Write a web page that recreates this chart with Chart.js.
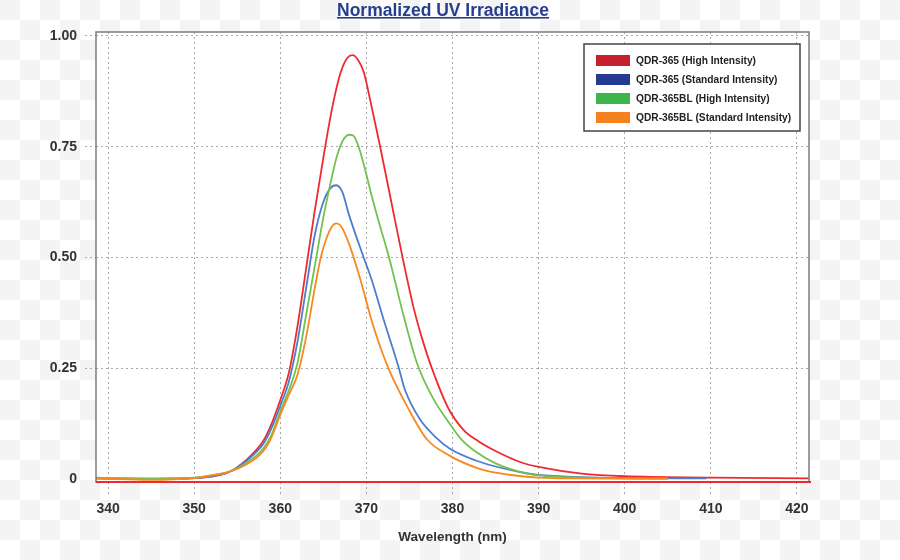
<!DOCTYPE html>
<html>
<head>
<meta charset="utf-8">
<script src="https://cdn.jsdelivr.net/npm/chart.js@4.4.0/dist/chart.umd.min.js"></script>
<style>
html, body { margin: 0; padding: 0; }
body {
    width: 900px; height: 560px;
    background-color: #fff;
    background-image: repeating-conic-gradient(#fff 0 25%, #f4f4f4 0 50%);
    background-size: 40px 40px;
}
</style>
</head>
<body>
<canvas id="myChart" width="900" height="560"></canvas>
<script>
// data
var seriesNames = ["QDR-365 (High Intensity)", "QDR-365 (Standard Intensity)", "QDR-365BL (High Intensity)", "QDR-365BL (Standard Intensity)"];

var redWl  = [338.6, 345, 350, 352, 354, 356, 358, 359, 360, 361, 362, 363, 364, 365, 366, 367, 367.8, 368.4, 369, 369.7, 370.5, 371.6, 373, 374.2, 375.5, 376.5, 377.6, 379.5, 381.3, 383, 385, 388, 390, 395, 400, 410, 421.4];
var redVal = [0.001, 0.000, 0.002, 0.005, 0.015, 0.042, 0.085, 0.125, 0.178, 0.24, 0.345, 0.475, 0.605, 0.725, 0.835, 0.917, 0.951, 0.957, 0.947, 0.918, 0.85, 0.75, 0.615, 0.50, 0.385, 0.315, 0.25, 0.16, 0.11, 0.085, 0.063, 0.037, 0.027, 0.012, 0.006, 0.003, 0.001];

var blueWl  = [338.6, 345, 350, 352, 354, 356, 358, 359, 360, 361, 362, 363, 364, 365, 365.8, 366.5, 367.2, 368, 369.5, 370.6, 372, 373.7, 374.5, 376.2, 378, 379.7, 382.8, 385, 388, 390, 395, 400, 409.5];
var blueVal = [0.001, 0.000, 0.002, 0.006, 0.015, 0.040, 0.078, 0.115, 0.165, 0.22, 0.31, 0.43, 0.55, 0.625, 0.656, 0.663, 0.648, 0.595, 0.51, 0.45, 0.36, 0.255, 0.20, 0.135, 0.095, 0.068, 0.041, 0.028, 0.015, 0.009, 0.004, 0.002, 0.001];

var greenWl  = [338.6, 345, 350, 352, 354, 356, 358, 359, 360, 361, 362, 363, 364, 365, 365.8, 366.6, 367.3, 368, 368.5, 369.1, 369.7, 370.6, 371.6, 372.7, 374.3, 375.9, 377.8, 379.7, 381, 382.8, 385, 388, 390, 395, 405];
var greenVal = [0.003, 0.001, 0.003, 0.008, 0.016, 0.035, 0.068, 0.10, 0.152, 0.20, 0.262, 0.37, 0.48, 0.59, 0.665, 0.73, 0.765, 0.777, 0.775, 0.75, 0.71, 0.64, 0.57, 0.495, 0.37, 0.26, 0.18, 0.124, 0.09, 0.06, 0.035, 0.015, 0.008, 0.003, 0.001];

var orangeWl  = [338.6, 345, 350, 352, 354, 356, 358, 359, 360, 361, 362, 363, 364, 364.7, 365.4, 366, 366.5, 367, 368, 369.3, 370.8, 372.55, 374.7, 377, 379.7, 382.8, 385, 388, 390, 395, 405];
var orangeVal = [0.001, -0.002, 0.002, 0.008, 0.016, 0.032, 0.062, 0.095, 0.145, 0.19, 0.235, 0.32, 0.43, 0.50, 0.545, 0.57, 0.577, 0.572, 0.53, 0.45, 0.345, 0.25, 0.165, 0.09, 0.052, 0.025, 0.014, 0.006, 0.003, 0.001, 0.000];

var xTickValues = [340, 350, 360, 370, 380, 390, 400, 410, 420];
var yTickValues = [0, 0.25, 0.5, 0.75, 1];
var yTickLabels = ["0", "0.25", "0.50", "0.75", "1.00"];

var FONT = "'Liberation Sans', Arial, sans-serif";
var lineColors = ["#ee2a30", "#4d7ecb", "#72c24f", "#f7891f"];
var legendColors = ["#c6202f", "#253b92", "#3db54a", "#f6821f"];

function toPoints(xs, ys){
    var pts = [];
    for (var i = 0; i < xs.length; i++) {
        pts.push({x: xs[i], y: ys[i]});
    }
    return pts;
}

var allWl = [redWl, blueWl, greenWl, orangeWl];
var allVal = [redVal, blueVal, greenVal, orangeVal];
var datasets = [];
for (var i = 0; i < 4; i++) {
    datasets.push({
        label: seriesNames[i],
        data: toPoints(allWl[i], allVal[i]),
        borderColor: lineColors[i],
        borderWidth: 1.8,
        pointRadius: 0,
        cubicInterpolationMode: 'monotone',
        fill: false
    });
}
// draw red on top like the picture
datasets.reverse();

var plotBg = {
    id: 'plotBg',
    beforeDraw: function(chart){
        var a = chart.chartArea, ctx = chart.ctx;
        ctx.save();
        ctx.fillStyle = '#fff';
        ctx.fillRect(a.left, a.top, a.right - a.left, a.bottom - a.top);
        ctx.restore();
    },
    afterDatasetsDraw: function(chart){
        var a = chart.chartArea, ctx = chart.ctx;
        ctx.save();
        ctx.strokeStyle = '#7c7c7c';
        ctx.lineWidth = 1.5;
        ctx.strokeRect(a.left, a.top, a.right - a.left, a.bottom - a.top);
        ctx.strokeStyle = '#ee2a30';
        ctx.lineWidth = 2;
        ctx.beginPath();
        ctx.moveTo(a.left, a.bottom);
        ctx.lineTo(a.right + 2, a.bottom);
        ctx.stroke();
        ctx.restore();
    }
};

var titleAndLegend = {
    id: 'titleAndLegend',
    afterDraw: function(chart){
        var ctx = chart.ctx;
        ctx.save();
        // title with underline
        ctx.font = 'bold 17.5px ' + FONT;
        ctx.fillStyle = '#253f8e';
        ctx.textAlign = 'center';
        ctx.textBaseline = 'alphabetic';
        var t = 'Normalized UV Irradiance';
        ctx.fillText(t, 443, 15.5);
        var w = ctx.measureText(t).width;
        ctx.fillRect(443 - w / 2, 17, w, 1.6);

        // legend box
        ctx.fillStyle = '#fff';
        ctx.fillRect(584, 44, 216, 87);
        ctx.strokeStyle = '#444';
        ctx.lineWidth = 1.5;
        ctx.strokeRect(584, 44, 216, 87);
        ctx.font = 'bold 10.2px ' + FONT;
        ctx.textAlign = 'left';
        ctx.textBaseline = 'middle';
        for (var i = 0; i < seriesNames.length; i++) {
            var cy = 60.5 + i * 19;
            ctx.fillStyle = legendColors[i];
            ctx.fillRect(596, cy - 5.5, 34, 11);
            ctx.fillStyle = '#222';
            ctx.fillText(seriesNames[i], 636, cy + 0.5);
        }
        ctx.restore();
    }
};

var ctx = document.getElementById('myChart').getContext('2d');
var chart = new Chart(ctx, {
    type: 'line',
    data: { datasets: datasets },
    plugins: [plotBg, titleAndLegend],
    options: {
        responsive: false,
        animation: false,
        layout: { padding: { left: 0, right: 91, top: 32, bottom: 0 } },
        plugins: {
            legend: { display: false },
            title: { display: false },
            tooltip: { enabled: false }
        },
        scales: {
            x: {
                type: 'linear',
                min: 338.6,
                max: 421.4,
                afterBuildTicks: function(scale){
                    scale.ticks = xTickValues.map(function(v){ return {value: v}; });
                },
                afterFit: function(scale){ scale.height = 78; },
                grid: { color: '#a8a8a8', tickLength: 13, tickBorderDash: [2, 3], lineWidth: 1 },
                border: { display: false, dash: [2, 3] },
                ticks: {
                    color: '#333',
                    padding: 6,
                    maxRotation: 0,
                    font: { family: FONT, size: 14, weight: 'bold' },
                    callback: function(value){ return String(value); }
                },
                title: {
                    display: true,
                    text: 'Wavelength (nm)',
                    color: '#333',
                    padding: { top: 0, bottom: 15 },
                    font: { family: FONT, size: 13.5, weight: 'bold' }
                }
            },
            y: {
                min: -0.007,
                max: 1.009,
                afterBuildTicks: function(scale){
                    scale.ticks = yTickValues.map(function(v){ return {value: v}; });
                },
                afterFit: function(scale){ scale.width = 96; },
                grid: {
                    color: function(c){ return (c.tick && c.tick.value === 0) ? 'rgba(0,0,0,0)' : '#a8a8a8'; },
                    tickLength: 11,
                    tickBorderDash: [2, 3],
                    lineWidth: 1
                },
                border: { display: false, dash: [2, 3] },
                ticks: {
                    color: '#333',
                    padding: 8,
                    font: { family: FONT, size: 14, weight: 'bold' },
                    callback: function(value, index){ return yTickLabels[index]; }
                }
            }
        }
    }
});
</script>
</body>
</html>
